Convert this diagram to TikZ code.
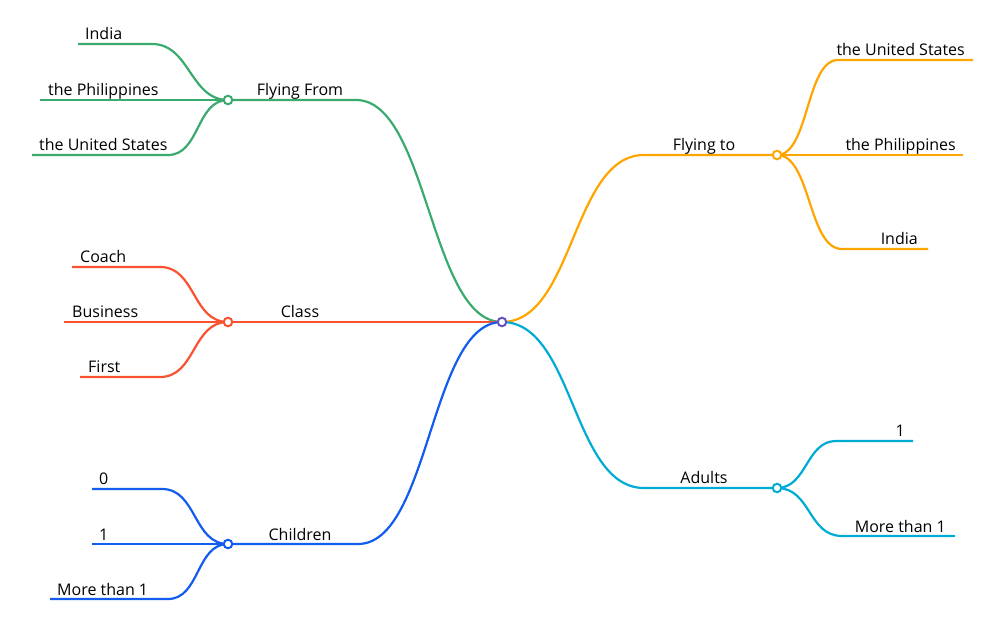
\documentclass[tikz,border=0pt]{standalone}
\usepackage{fontspec}
\setmainfont{Open Sans}
\pgfdeclarelayer{bg}
\pgfsetlayers{bg,main}
\definecolor{cgreen}{RGB}{58,170,110}
\definecolor{corange}{RGB}{255,165,0}
\definecolor{cred}{RGB}{250,82,48}
\definecolor{cblue}{RGB}{18,92,240}
\definecolor{ccyan}{RGB}{0,172,212}
\definecolor{cpurple}{RGB}{100,80,190}
\begin{document}
\begin{tikzpicture}[x=1pt,y=-1pt,
  hub/.style={circle,draw=#1,fill=white,line width=2pt,inner sep=0pt,minimum size=8.5pt},
  wire/.style={draw=#1,line width=2.2pt},
  lbl/.style={font=\fontsize{16}{18}\selectfont,inner sep=1pt,anchor=base west},
  lblr/.style={font=\fontsize{16}{18}\selectfont,inner sep=1pt,anchor=base east},
  lblc/.style={font=\fontsize{16}{18}\selectfont,inner sep=1pt,anchor=base}]
\useasboundingbox (0,0) rectangle (1005,636);

% center
\node[hub=cpurple] (c) at (502,322) {};
% hubs
\node[hub=cgreen] (ff) at (228,100) {};
\node[hub=cred] (cl) at (228,322) {};
\node[hub=cblue] (ch) at (228,544) {};
\node[hub=corange] (ft) at (777,155) {};
\node[hub=ccyan] (ad) at (777,488) {};

% main labels
\node[lblc] (lff) at (300,96) {Flying From};
\node[lblc] (lcl) at (300,318) {Class};
\node[lblc] (lch) at (300,540) {Children};
\node[lblc] (lft) at (704,151) {Flying to};
\node[lblc] (lad) at (704,484) {Adults};

% leaf coordinates
\coordinate (e1) at (78,44);  \coordinate (k1) at (152,44);
\coordinate (e2) at (40,100);
\coordinate (e3) at (32,155); \coordinate (k3) at (168,155);
\coordinate (e4) at (72,267); \coordinate (k4) at (160,267);
\coordinate (e5) at (64,322);
\coordinate (e6) at (80,377); \coordinate (k6) at (160,377);
\coordinate (e7) at (92,489); \coordinate (k7) at (162,489);
\coordinate (e8) at (92,544);
\coordinate (e9) at (50,599); \coordinate (k9) at (168,599);
\coordinate (e10) at (973,60); \coordinate (k10) at (838,60);
\coordinate (e11) at (963,155);
\coordinate (e12) at (928,249); \coordinate (k12) at (842,249);
\coordinate (e13) at (913,441); \coordinate (k13) at (836,441);
\coordinate (e14) at (955,536); \coordinate (k14) at (842,536);
\coordinate (m1) at (356,100);
\coordinate (m2) at (358,544);
\coordinate (m3) at (644,155);
\coordinate (m4) at (644,488);

% leaf labels
\node[lbl] (t1) at (84,40) {India};
\node[lbl] (t2) at (47,96) {the Philippines};
\node[lbl] (t3) at (38,151) {the United States};
\node[lbl] (t4) at (79,263) {Coach};
\node[lbl] (t5) at (71,318) {Business};
\node[lbl] (t6) at (87,373) {First};
\node[lbl] (t7) at (98,485) {0};
\node[lbl] (t8) at (98,540) {1};
\node[lbl] (t9) at (56,595) {More than 1};
\node[lblr] (t10) at (966,56) {the United States};
\node[lblr] (t11) at (957,151) {the Philippines};
\node[lblr] (t12) at (919,245) {India};
\node[lblr] (t13) at (906,437) {1};
\node[lblr] (t14) at (947,532) {More than 1};

\begin{pgfonlayer}{bg}
\fill[white] (0,0) rectangle (1005,636);
% main branches
\draw[wire=cgreen] (ff.center) -- (m1) .. controls +(72,0) and +(-72,0) .. (c.center);
\draw[wire=cred] (cl.center) -- (c.center);
\draw[wire=cblue] (ch.center) -- (m2) .. controls +(72,0) and +(-72,0) .. (c.center);
\draw[wire=corange] (c.center) .. controls +(72,0) and +(-72,0) .. (m3) -- (ft.center);
\draw[wire=ccyan] (c.center) .. controls +(72,0) and +(-72,0) .. (m4) -- (ad.center);
% left leaves
\draw[wire=cgreen] (e1) -- (k1) .. controls +(38,0) and +(-38,0) .. (ff.center);
\draw[wire=cgreen] (e2) -- (ff.center);
\draw[wire=cgreen] (e3) -- (k3) .. controls +(32,0) and +(-32,0) .. (ff.center);
\draw[wire=cred] (e4) -- (k4) .. controls +(36,0) and +(-36,0) .. (cl.center);
\draw[wire=cred] (e5) -- (cl.center);
\draw[wire=cred] (e6) -- (k6) .. controls +(36,0) and +(-36,0) .. (cl.center);
\draw[wire=cblue] (e7) -- (k7) .. controls +(35,0) and +(-35,0) .. (ch.center);
\draw[wire=cblue] (e8) -- (ch.center);
\draw[wire=cblue] (e9) -- (k9) .. controls +(32,0) and +(-32,0) .. (ch.center);
% right leaves
\draw[wire=corange] (ft.center) .. controls +(32,0) and +(-32,0) .. (k10) -- (e10);
\draw[wire=corange] (ft.center) -- (e11);
\draw[wire=corange] (ft.center) .. controls +(34,0) and +(-34,0) .. (k12) -- (e12);
\draw[wire=ccyan] (ad.center) .. controls +(30,0) and +(-30,0) .. (k13) -- (e13);
\draw[wire=ccyan] (ad.center) .. controls +(34,0) and +(-34,0) .. (k14) -- (e14);
\end{pgfonlayer}
\end{tikzpicture}
\end{document}
